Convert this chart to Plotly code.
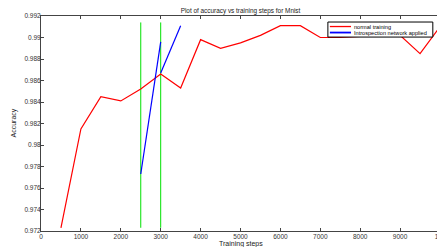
import plotly.graph_objects as go

steps = [500, 1000, 1500, 2000, 2500, 3000, 3500, 4000, 4500, 5000, 5500, 6000,
         6500, 7000, 7500, 8000, 8500, 9000, 9500, 10000]
normal_acc = [0.9723, 0.9815, 0.9845, 0.9841, 0.9852, 0.9866, 0.9853, 0.9898,
              0.9890, 0.9895, 0.9902, 0.9911, 0.9911, 0.9900, 0.9900, 0.9901,
              0.9902, 0.9902, 0.9885, 0.9910]
intro_steps = [2500, 3000, None, 3000, 3500]
intro_acc = [0.9773, 0.9896, None, 0.9867, 0.9911]
marker_steps = [2500, 3000]
marker_low = 0.9723
marker_high = 0.9914
x_ticks = list(range(0, 10001, 1000))
y_ticks = [0.972 + 0.002 * i for i in range(11)]
y_tick_text = ["0.972", "0.974", "0.976", "0.978", "0.98", "0.982", "0.984",
               "0.986", "0.988", "0.99", "0.992"]
series_names = ["normal training", "Introspection network applied"]
series_colors = ["red", "blue"]

FONT = "Liberation Sans, Arial, Helvetica"

fig = go.Figure()
for xs in marker_steps:
    fig.add_trace(go.Scatter(x=[xs, xs], y=[marker_low, marker_high], mode="lines",
                             line=dict(color="#00e000", width=1), showlegend=False,
                             hoverinfo="skip"))
fig.add_trace(go.Scatter(x=steps, y=normal_acc, mode="lines", name=series_names[0],
                         line=dict(color=series_colors[0], width=1.2), showlegend=False))
fig.add_trace(go.Scatter(x=intro_steps, y=intro_acc, mode="lines",
                         name=series_names[1], showlegend=False,
                         line=dict(color=series_colors[1], width=1.2), connectgaps=False))

axis_common = dict(showgrid=False, zeroline=False, showline=True, mirror="ticks",
                   linecolor="#444", linewidth=1, ticks="inside", ticklen=3,
                   tickcolor="#444", ticklabeloverflow="allow", automargin=False,
                   tickfont=dict(size=6.5, color="#333", family=FONT))

# manual legend box (paper coordinates)
lx0, lx1, ly0, ly1 = 0.719, 0.982, 0.902, 0.972
shapes = [dict(type="rect", xref="paper", yref="paper", x0=lx0, x1=lx1, y0=ly0, y1=ly1,
               line=dict(color="black", width=1), fillcolor="white", layer="above")]
annotations = []
row_y = [0.951, 0.923]
for name, col, ry in zip(series_names, series_colors, row_y):
    shapes.append(dict(type="line", xref="paper", yref="paper", x0=0.724, x1=0.777,
                       y0=ry, y1=ry, line=dict(color=col, width=1.3 if col == "red" else 1.8),
                       layer="above"))
    annotations.append(dict(xref="paper", yref="paper", x=0.780, y=ry, text=name,
                            showarrow=False, xanchor="left", yanchor="middle",
                            font=dict(size=5.6, color="black", family=FONT)))
annotations.append(dict(xref="paper", yref="paper", x=0.5, y=0, yshift=-7,
                        text="Training steps", showarrow=False, xanchor="center",
                        yanchor="top", font=dict(size=7, color="#222", family=FONT)))
annotations.append(dict(xref="paper", yref="paper", x=0, y=0.5, xshift=-28,
                        text="Accuracy", textangle=-90, showarrow=False,
                        xanchor="center", yanchor="middle",
                        font=dict(size=7, color="#222", family=FONT)))

fig.update_layout(
    width=445, height=247,
    margin=dict(l=33, r=13, t=8, b=24, autoexpand=False),
    paper_bgcolor="white", plot_bgcolor="white",
    font=dict(family=FONT, size=7, color="#222"),
    showlegend=False,
    title=dict(text="Plot of accuracy vs training steps for Mnist", xref="paper", x=0.5,
               xanchor="center", y=0.998, yanchor="top", automargin=False,
               font=dict(size=6.4, color="#222")),
    xaxis=dict(range=[0, 10000], tickvals=x_ticks, ticklabelstandoff=-1, **axis_common),
    yaxis=dict(range=[0.972, 0.992], tickvals=y_ticks, ticktext=y_tick_text,
               ticklabelstandoff=-2, **axis_common),
    shapes=shapes,
    annotations=annotations,
)
fig.write_html("out.html")
